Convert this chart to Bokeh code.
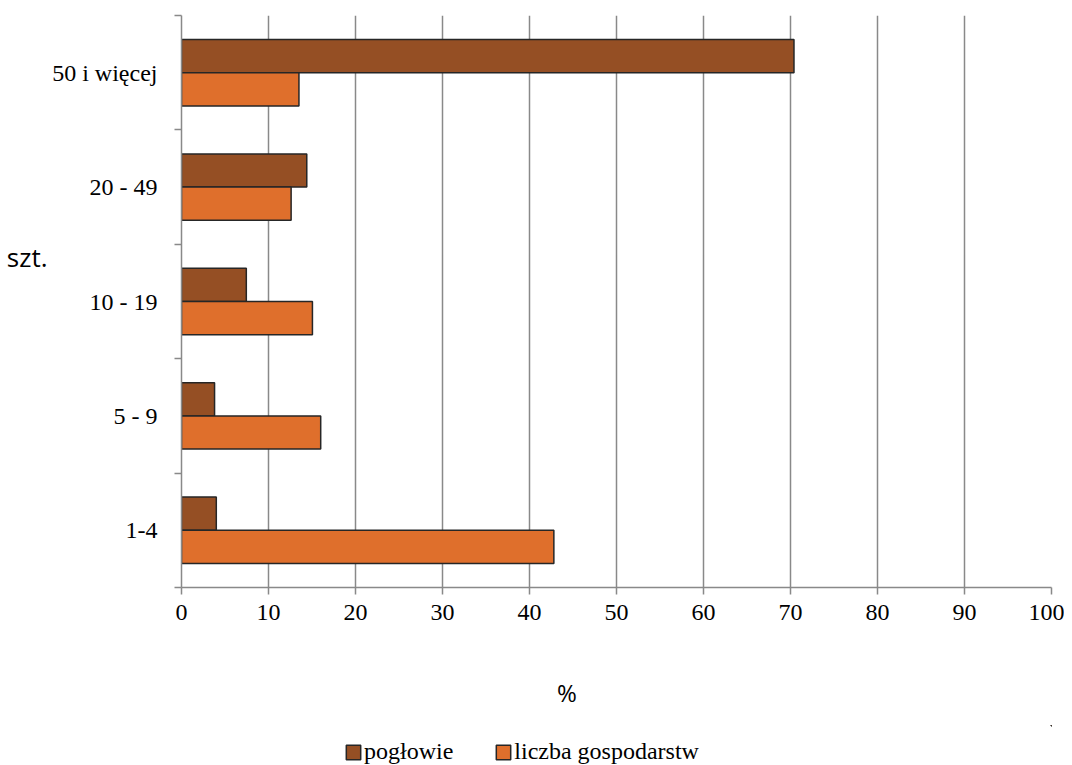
from bokeh.plotting import figure
from bokeh.layouts import column
from bokeh.models import (Range1d, FixedTicker, ColumnDataSource, Legend, LegendItem,
                          LinearAxis)
from bokeh.embed import file_html
from bokeh.resources import INLINE

# ---- data ----
categories = ["1-4", "5 - 9", "10 - 19", "20 - 49", "50 i więcej"]
poglowie = [4.0, 3.8, 7.45, 14.4, 70.4]
liczba_gospodarstw = [42.8, 16.0, 15.05, 12.6, 13.5]
x_ticks = [0, 10, 20, 30, 40, 50, 60, 70, 80, 90, 100]
series_names = ["pogłowie", "liczba gospodarstw"]
series_colors = ["#954F24", "#DF6F2C"]
y_title = "szt."
x_title = "%"

GREY = "#898989"
EDGE = "#262626"
SERIF = "Liberation Serif"
SANS = "Open Sans"

centers = [i + 0.5 for i in range(len(categories))]
bar_h = 0.29

p = figure(width=1064, height=725, output_backend="svg", toolbar_location=None,
           min_border_left=181, min_border_right=13, min_border_top=15, min_border_bottom=138,
           x_range=Range1d(0, 100), y_range=Range1d(0, len(categories)))
p.outline_line_color = None
p.background_fill_color = "white"
p.border_fill_color = "white"

src_a = ColumnDataSource(dict(y=[c + bar_h / 2 for c in centers], right=poglowie))
src_b = ColumnDataSource(dict(y=[c - bar_h / 2 for c in centers], right=liczba_gospodarstw))

bar_style = dict(left=0, height=bar_h, line_color=EDGE, line_width=1.5)
p.hbar(y="y", right="right", source=src_a, fill_color=series_colors[0], **bar_style)
p.hbar(y="y", right="right", source=src_b, fill_color=series_colors[1], **bar_style)

# x axis
xa = p.xaxis[0]
xa.ticker = FixedTicker(ticks=x_ticks)
xa.axis_line_color = GREY
xa.axis_line_width = 1.5
xa.major_tick_line_color = GREY
xa.major_tick_line_width = 1.5
xa.major_tick_out = 7
xa.major_tick_in = 0
xa.minor_tick_line_color = None
xa.major_label_text_font = SERIF
xa.major_label_text_font_size = "24px"
xa.major_label_text_color = "black"
xa.major_label_standoff = 10

# y axis (ticks at category boundaries, labels at centres)
ya = p.yaxis[0]
ya.ticker = FixedTicker(ticks=centers, minor_ticks=list(range(len(categories) + 1)))
ya.major_label_overrides = {c: lab for c, lab in zip(centers, categories)}
ya.axis_line_color = GREY
ya.axis_line_width = 1.5
ya.major_tick_line_color = None
ya.major_tick_out = 0
ya.major_tick_in = 0
ya.minor_tick_line_color = GREY
ya.minor_tick_line_width = 1.5
ya.minor_tick_out = 7
ya.minor_tick_in = 0
ya.major_label_text_font = SERIF
ya.major_label_text_font_size = "24px"
ya.major_label_text_color = "black"
ya.major_label_standoff = 17


def title_axis(ticker_pos, text, standoff, size):
    ax = LinearAxis(ticker=FixedTicker(ticks=[ticker_pos]),
                    major_label_overrides={ticker_pos: text})
    ax.axis_line_color = None
    ax.major_tick_line_color = None
    ax.minor_tick_line_color = None
    ax.major_tick_out = 0
    ax.major_tick_in = 0
    ax.minor_tick_out = 0
    ax.major_label_standoff = standoff
    ax.major_label_text_font = SANS
    ax.major_label_text_font_size = size
    ax.major_label_text_color = "black"
    return ax


p.add_layout(title_axis(2.89, y_title, 2, "26px"), "left")
p.add_layout(title_axis(44.3, x_title, 53, "24px"), "below")

# grid
p.xgrid.ticker = FixedTicker(ticks=x_ticks)
p.xgrid.grid_line_color = GREY
p.xgrid.grid_line_width = 1.5
p.ygrid.visible = False

# legend strip: its bars fall far outside its visible ranges; only the legend shows
pl = figure(width=1064, height=40, output_backend="svg", toolbar_location=None,
            min_border_left=181, min_border_right=13, min_border_top=0, min_border_bottom=0,
            x_range=Range1d(-300, -200), y_range=Range1d(-300, -299))
pl.outline_line_color = None
pl.axis.visible = False
pl.grid.visible = False
la = pl.hbar(y="y", right="right", source=src_a, fill_color=series_colors[0], **bar_style)
lb = pl.hbar(y="y", right="right", source=src_b, fill_color=series_colors[1], **bar_style)
legend = Legend(items=[LegendItem(label=series_names[0], renderers=[la]),
                       LegendItem(label=series_names[1], renderers=[lb])],
                orientation="horizontal", location=(163, 0),
                glyph_width=18, glyph_height=18, label_standoff=2, spacing=41,
                padding=0, margin=0, border_line_color=None, background_fill_alpha=0,
                label_text_font=SERIF, label_text_font_size="24px", label_text_color="black")
pl.add_layout(legend, "center")

layout = column(p, pl, spacing=0)
open("out.html", "w").write(file_html(layout, INLINE))
